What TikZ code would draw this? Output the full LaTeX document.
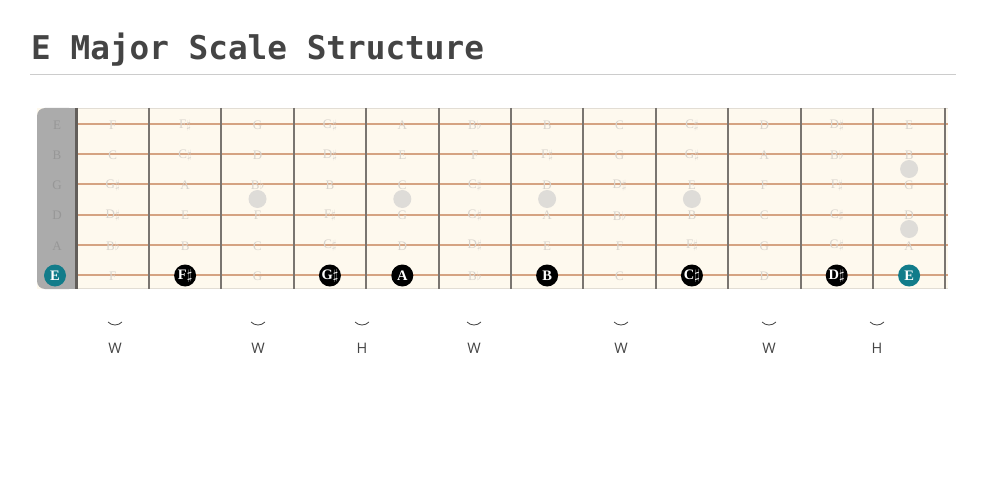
\documentclass[tikz,border=0pt]{standalone}
\usepackage{fontspec}
\setmainfont{Liberation Serif}
\newfontfamily\titlefont{DejaVu Sans Mono}
\newfontfamily\labfont{Open Sans}
\definecolor{titlegray}{HTML}{444444}
\definecolor{rulegray}{HTML}{CCCCCC}
\definecolor{boardbg}{HTML}{FEF9EE}
\definecolor{boardedge}{HTML}{E2DDD4}
\definecolor{nutgray}{HTML}{ABABAB}
\definecolor{opentext}{HTML}{979797}
\definecolor{stringcol}{HTML}{D5A382}
\definecolor{fretcol}{HTML}{7A7570}
\definecolor{notecol}{HTML}{D8D3CC}
\definecolor{inlaycol}{HTML}{DEDCD8}
\definecolor{rootteal}{HTML}{127C8A}
\tikzset{
  stringline/.style={draw=stringcol, line width=2pt},
  fretline/.style={draw=fretcol, line width=2pt},
  notelab/.style={text=notecol, font=\fontsize{13}{13}\selectfont, inner sep=0pt, anchor=center},
  openlab/.style={text=opentext, font=\fontsize{13}{13}\selectfont, inner sep=0pt},
  scaledot/.style={circle, fill=black, minimum size=22pt, inner sep=0pt, text=white, font=\bfseries\fontsize{14.5}{14.5}\selectfont},
  rootdot/.style={scaledot, fill=rootteal},
  inlay/.style={circle, fill=inlaycol, minimum size=18pt, inner sep=0pt},
  steplab/.style={text=titlegray, font=\labfont\fontsize{14.5}{14.5}\selectfont, inner sep=0pt},
  steparc/.style={draw=titlegray, line width=0.8pt},
}
\begin{document}
\begin{tikzpicture}[x=1pt,y=-1pt]
\useasboundingbox (0,0) rectangle (987,489);
\fill[white] (0,0) rectangle (987,489);
% title
\node[anchor=base west, inner sep=0pt, text=titlegray, font=\titlefont\bfseries\fontsize{32.7}{32.7}\selectfont] (title) at (31,60) {E Major Scale Structure};
\draw[rulegray, line width=1pt] (30,75) -- (956,75);
% board
\fill[boardbg] (37,108) rectangle (948,289);
\draw[boardedge, line width=0.8pt] (77,108.4) -- (948,108.4);
\draw[boardedge, line width=0.8pt] (77,288.6) -- (948,288.6);
\fill[nutgray, rounded corners=8pt] (37,108) rectangle (77,289);
\fill[nutgray] (60,108) rectangle (77,289);
% strings
\foreach \k in {0,...,5} {
  \draw[stringline] (76,124+30.2*\k) -- (948,124+30.2*\k);
}
% nut and frets
\draw[draw=fretcol!80!black, line width=2.4pt] (76.5,108) -- (76.5,289);
\foreach \i in {1,...,12} {
  \draw[fretline] (76.5+72.4*\i,108) -- (76.5+72.4*\i,289);
}
% inlays
\foreach \i/\y [count=\c] in {3/199,5/199,7/199,9/199,12/169,12/229} {
  \node[inlay] (inlay\c) at (40.3+72.4*\i,\y) {};
}
% open string labels
\foreach \n [count=\k from 0] in {E,B,G,D,A} {
  \node[openlab] (open\k) at (57,125+30.2*\k) {\n};
}
% fret note labels
\newcommand{\sh}{$\sharp$}
\newcommand{\fl}{$\flat$}
\foreach \n [count=\i] in {F,F\sh,G,G\sh,A,B\fl,B,C,C\sh,D,D\sh,E} {
  \node[notelab] (nA\i) at (40.3+72.4*\i,125) {\n};
}
\foreach \n [count=\i] in {C,C\sh,D,D\sh,E,F,F\sh,G,G\sh,A,B\fl,B} {
  \node[notelab] (nB\i) at (40.3+72.4*\i,155.2) {\n};
}
\foreach \n [count=\i] in {G\sh,A,B\fl,B,C,C\sh,D,D\sh,E,F,F\sh,G} {
  \node[notelab] (nC\i) at (40.3+72.4*\i,185.4) {\n};
}
\foreach \n [count=\i] in {D\sh,E,F,F\sh,G,G\sh,A,B\fl,B,C,C\sh,D} {
  \node[notelab] (nD\i) at (40.3+72.4*\i,215.6) {\n};
}
\foreach \n [count=\i] in {B\fl,B,C,C\sh,D,D\sh,E,F,F\sh,G,G\sh,A} {
  \node[notelab] (nE\i) at (40.3+72.4*\i,245.8) {\n};
}
\foreach \i/\n in {1/F,3/G,6/B\fl,8/C,10/D} {
  \node[notelab] (nF\i) at (40.3+72.4*\i,276) {\n};
}
% scale dots
\node[rootdot] (d0) at (55,275.5) {E};
\node[scaledot] (d1) at (40.3+72.4*2,275.5) {F\sh};
\node[scaledot] (d2) at (40.3+72.4*4,275.5) {G\sh};
\node[scaledot] (d3) at (40.3+72.4*5,275.5) {A};
\node[scaledot] (d4) at (40.3+72.4*7,275.5) {B};
\node[scaledot] (d5) at (40.3+72.4*9,275.5) {C\sh};
\node[scaledot] (d6) at (40.3+72.4*11,275.5) {D\sh};
\node[rootdot] (d7) at (40.3+72.4*12,275.5) {E};
% interval steps
\foreach \x/\s [count=\c] in {115/W,258/W,362/H,474/W,621/W,769/W,877/H} {
  \draw[steparc] (\x-7,322) .. controls (\x-3,326) and (\x+3,326) .. (\x+7,322);
  \node[steplab] (step\c) at (\x,348.5) {\s};
}
\end{tikzpicture}
\end{document}
